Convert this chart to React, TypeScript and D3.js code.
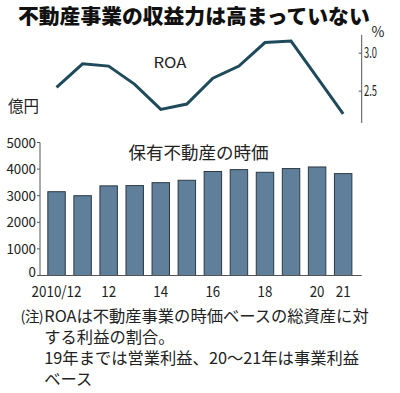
import React, { useEffect, useRef } from 'react';
import * as d3 from 'd3';

// 年（2010/12 〜 21）
const years = ['2010', '2011', '2012', '2013', '2014', '2015', '2016', '2017', '2018', '2019', '2020', '2021'];
const yearLabels = ['2010/12', '', '12', '', '14', '', '16', '', '18', '', '20', '21'];

// 保有不動産の時価（億円）
const marketValue = [3150, 3000, 3370, 3380, 3490, 3580, 3910, 3980, 3880, 4020, 4080, 3830];

// ROA（%）
const roa = [2.55, 2.86, 2.83, 2.59, 2.26, 2.33, 2.67, 2.83, 3.14, 3.16, 2.68, 2.2];

const valueTicks = [0, 1000, 2000, 3000, 4000, 5000];
const roaTicks = [2.5, 3.0];

const noteHead = ['(', '注', ')'];
const noteLines = [
  'ROAは不動産事業の時価ベースの総資産に対',
  'する利益の割合。',
  '19年までは営業利益、20～21年は事業利益',
  'ベース',
];

const JP = '"Noto Sans CJK JP", "Noto Sans", sans-serif';

// condensed digits: fixed width per glyph
const numWidth = (s: string) =>
  s.split('').reduce((w, c) => w + (c === '.' ? 3.6 : c === '/' ? 5.6 : 7.4), 0);

const App: React.FC = () => {
  const svgRef = useRef<SVGSVGElement>(null);
  const width = 400;
  const height = 393;

  useEffect(() => {
    if (!svgRef.current) return;
    const svg = d3.select(svgRef.current);
    svg.selectAll('*').remove();

    svg.append('rect').attr('width', width).attr('height', height).attr('fill', '#fff');

    // title
    svg.append('text')
      .attr('x', 18)
      .attr('y', 24)
      .attr('font-family', JP)
      .attr('font-weight', 900)
      .attr('font-size', 20.8)
      .attr('fill', '#111')
      .text('不動産事業の収益力は高まっていない');

    const x = d3.scaleBand<string>()
      .domain(years)
      .range([40, 359.7])
      .paddingInner(0.33)
      .paddingOuter(0.3);

    const y = d3.scaleLinear().domain([0, 5000]).range([275.5, 142.5]);
    const yRoa = d3.scaleLinear().domain([2.08, 3.24]).range([123, 35]);

    const axisColor = '#555';

    // bars
    svg.append('g')
      .selectAll('rect')
      .data(marketValue)
      .enter()
      .append('rect')
      .attr('x', (d, i) => x(years[i])!)
      .attr('y', d => y(d))
      .attr('width', x.bandwidth())
      .attr('height', d => y(0) - y(d))
      .attr('fill', '#5f7f9b')
      .attr('stroke', '#2c3943')
      .attr('stroke-width', 1);

    // left axis
    const left = svg.append('g');
    left.append('line')
      .attr('x1', 40).attr('x2', 40)
      .attr('y1', y(5000)).attr('y2', y(0))
      .attr('stroke', axisColor).attr('stroke-width', 1);
    valueTicks.forEach(t => {
      left.append('line')
        .attr('x1', 37).attr('x2', 40)
        .attr('y1', y(t)).attr('y2', y(t))
        .attr('stroke', axisColor);
      const s = String(t);
      left.append('text')
        .attr('x', 36)
        .attr('y', y(t))
        .attr('dy', t === 0 ? '0.08em' : '0.36em') // 0 sits a little above the baseline
        .attr('text-anchor', 'end')
        .attr('font-family', JP)
        .attr('font-size', 14)
        .attr('textLength', numWidth(s))
        .attr('lengthAdjust', 'spacingAndGlyphs')
        .attr('fill', '#222')
        .text(s);
    });

    // baseline
    svg.append('line')
      .attr('x1', 40).attr('x2', 361.7)
      .attr('y1', y(0)).attr('y2', y(0))
      .attr('stroke', axisColor).attr('stroke-width', 1.2);

    // x labels
    yearLabels.forEach((lab, i) => {
      if (!lab) return;
      svg.append('text')
        .attr('x', x(years[i])! + x.bandwidth() / 2)
        .attr('y', 297)
        .attr('text-anchor', 'middle')
        .attr('font-family', JP)
        .attr('font-size', 15)
        .attr('textLength', numWidth(lab))
        .attr('lengthAdjust', 'spacingAndGlyphs')
        .attr('fill', '#222')
        .text(lab);
    });

    svg.append('text')
      .attr('x', 198.5)
      .attr('y', 159)
      .attr('text-anchor', 'middle')
      .attr('font-family', JP)
      .attr('font-size', 17.5)
      .attr('fill', '#222')
      .text('保有不動産の時価');

    svg.append('text')
      .attr('x', 8)
      .attr('y', 112)
      .attr('font-family', JP)
      .attr('font-size', 15.5)
      .attr('fill', '#222')
      .text('億円');

    // ROA line
    const line = d3.line<number>()
      .x((d, i) => x(years[i])! + x.bandwidth() / 2)
      .y(d => yRoa(d));

    svg.append('path')
      .datum(roa)
      .attr('d', line)
      .attr('fill', 'none')
      .attr('stroke', '#1e4a5a')
      .attr('stroke-width', 3)
      .attr('stroke-linejoin', 'miter');

    svg.append('text')
      .attr('x', 170)
      .attr('y', 68)
      .attr('text-anchor', 'middle')
      .attr('font-family', JP)
      .attr('font-size', 14.5)
      .attr('textLength', 33)
      .attr('lengthAdjust', 'spacingAndGlyphs')
      .attr('fill', '#222')
      .text('ROA');

    // right axis
    const right = svg.append('g');
    right.append('line')
      .attr('x1', 361.7).attr('x2', 361.7)
      .attr('y1', yRoa(3.24)).attr('y2', yRoa(2.08))
      .attr('stroke', axisColor).attr('stroke-width', 1);
    roaTicks.forEach(t => {
      right.append('line')
        .attr('x1', 358.7).attr('x2', 361.7)
        .attr('y1', yRoa(t)).attr('y2', yRoa(t))
        .attr('stroke', axisColor);
      const s = t.toFixed(1);
      right.append('text')
        .attr('x', 364)
        .attr('y', yRoa(t))
        .attr('dy', '0.36em')
        .attr('font-family', JP)
        .attr('font-size', 14.5)
        .attr('textLength', 13)
        .attr('lengthAdjust', 'spacingAndGlyphs')
        .attr('fill', '#222')
        .text(s);
    });
    right.append('text')
      .attr('x', 378)
      .attr('y', 37)
      .attr('text-anchor', 'middle')
      .attr('font-family', JP)
      .attr('font-size', 14)
      .attr('fill', '#222')
      .text('%');

    // note — "(注)" is set tight, glyph by glyph, in the first row
    const note = svg.append('g')
      .attr('font-family', JP)
      .attr('font-size', 16.3)
      .attr('fill', '#222');
    const headX = [20.5, 25, 38.8];
    noteLines.forEach((t, i) => {
      const row = note.append('text').attr('y', 322 + i * 21);
      if (i === 0) {
        noteHead.forEach((g, j) =>
          row.append('tspan').attr('x', headX[j]).attr('font-size', 14.5).text(g));
      }
      row.append('tspan').attr('x', 44.3).text(t);
    });
  }, []);

  return (
    <svg
      ref={svgRef}
      width={width}
      height={height}
      style={{ position: 'absolute', left: 0, top: 0 }}
    />
  );
};

export default App;
